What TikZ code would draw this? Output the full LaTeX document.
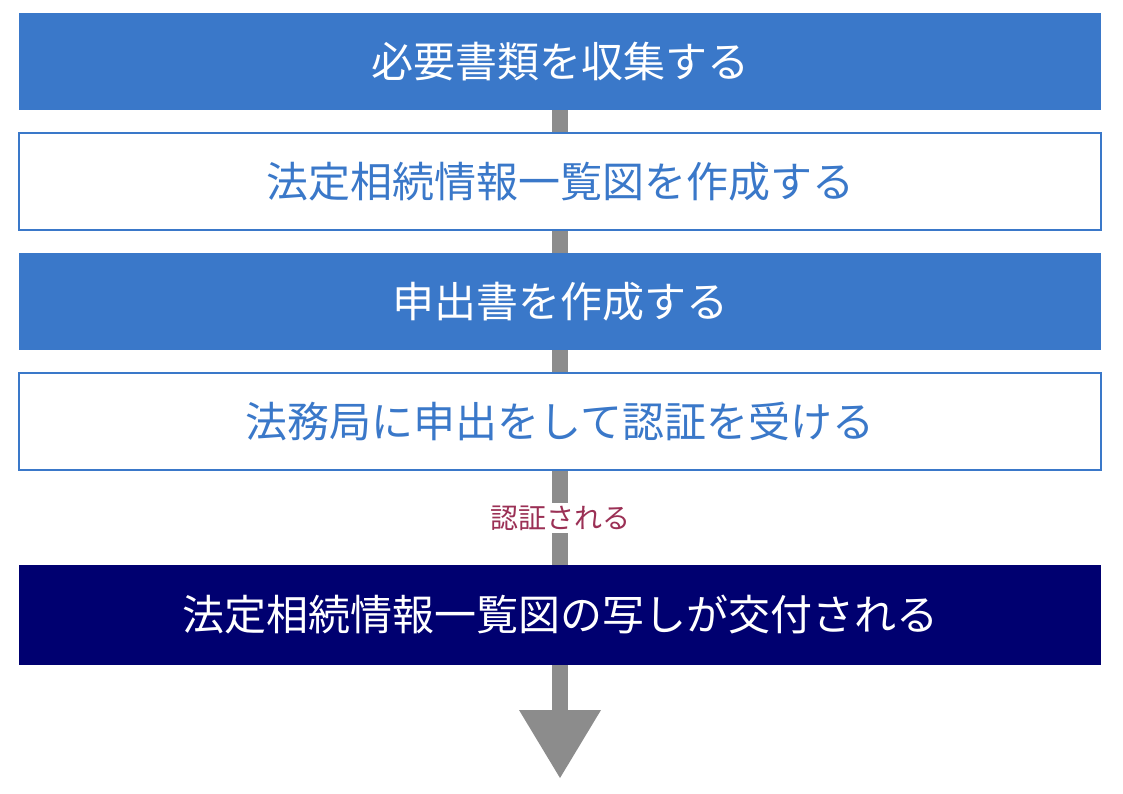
\documentclass[tikz,border=0pt]{standalone}
\usepackage{fontspec}
\setmainfont{Noto Sans CJK JP}
\definecolor{bl}{HTML}{3A78C9}
\definecolor{nv}{HTML}{000070}
\definecolor{lb}{HTML}{9B3055}
\definecolor{gr}{HTML}{8C8C8C}
\begin{document}
\begin{tikzpicture}[x=1pt,y=-1pt,
 boxf/.style={minimum width=1082pt,minimum height=97pt,inner sep=0pt,fill=bl,text=white,font=\fontsize{42}{48}\selectfont},
 boxw/.style={minimum width=1082pt,minimum height=97pt,inner sep=0pt,fill=white,draw=bl,line width=1.5pt,text=bl,font=\fontsize{42}{48}\selectfont}]
\useasboundingbox (0,0) rectangle (1123,794);
\coordinate (s) at (560,110);
\coordinate (h) at (560,712);
\coordinate (t) at (560,778);
\draw[gr,line width=16pt] (s) -- (h);
\fill[gr] (519,710) -- (601,710) -- (t) -- cycle;
\node[boxf] (a) at (560,61.5) {必要書類を収集する};
\node[boxw] (b) at (560,181.5) {法定相続情報一覧図を作成する};
\node[boxf] (c) at (560,301.5) {申出書を作成する};
\node[boxw] (d) at (560,421.5) {法務局に申出をして認証を受ける};
\node[fill=white,text=lb,font=\fontsize{28}{32}\selectfont,inner sep=3pt] (l) at (560,518) {認証される};
\node[boxf,fill=nv,minimum height=100pt] (e) at (560,615) {法定相続情報一覧図の写しが交付される};
\end{tikzpicture}
\end{document}
